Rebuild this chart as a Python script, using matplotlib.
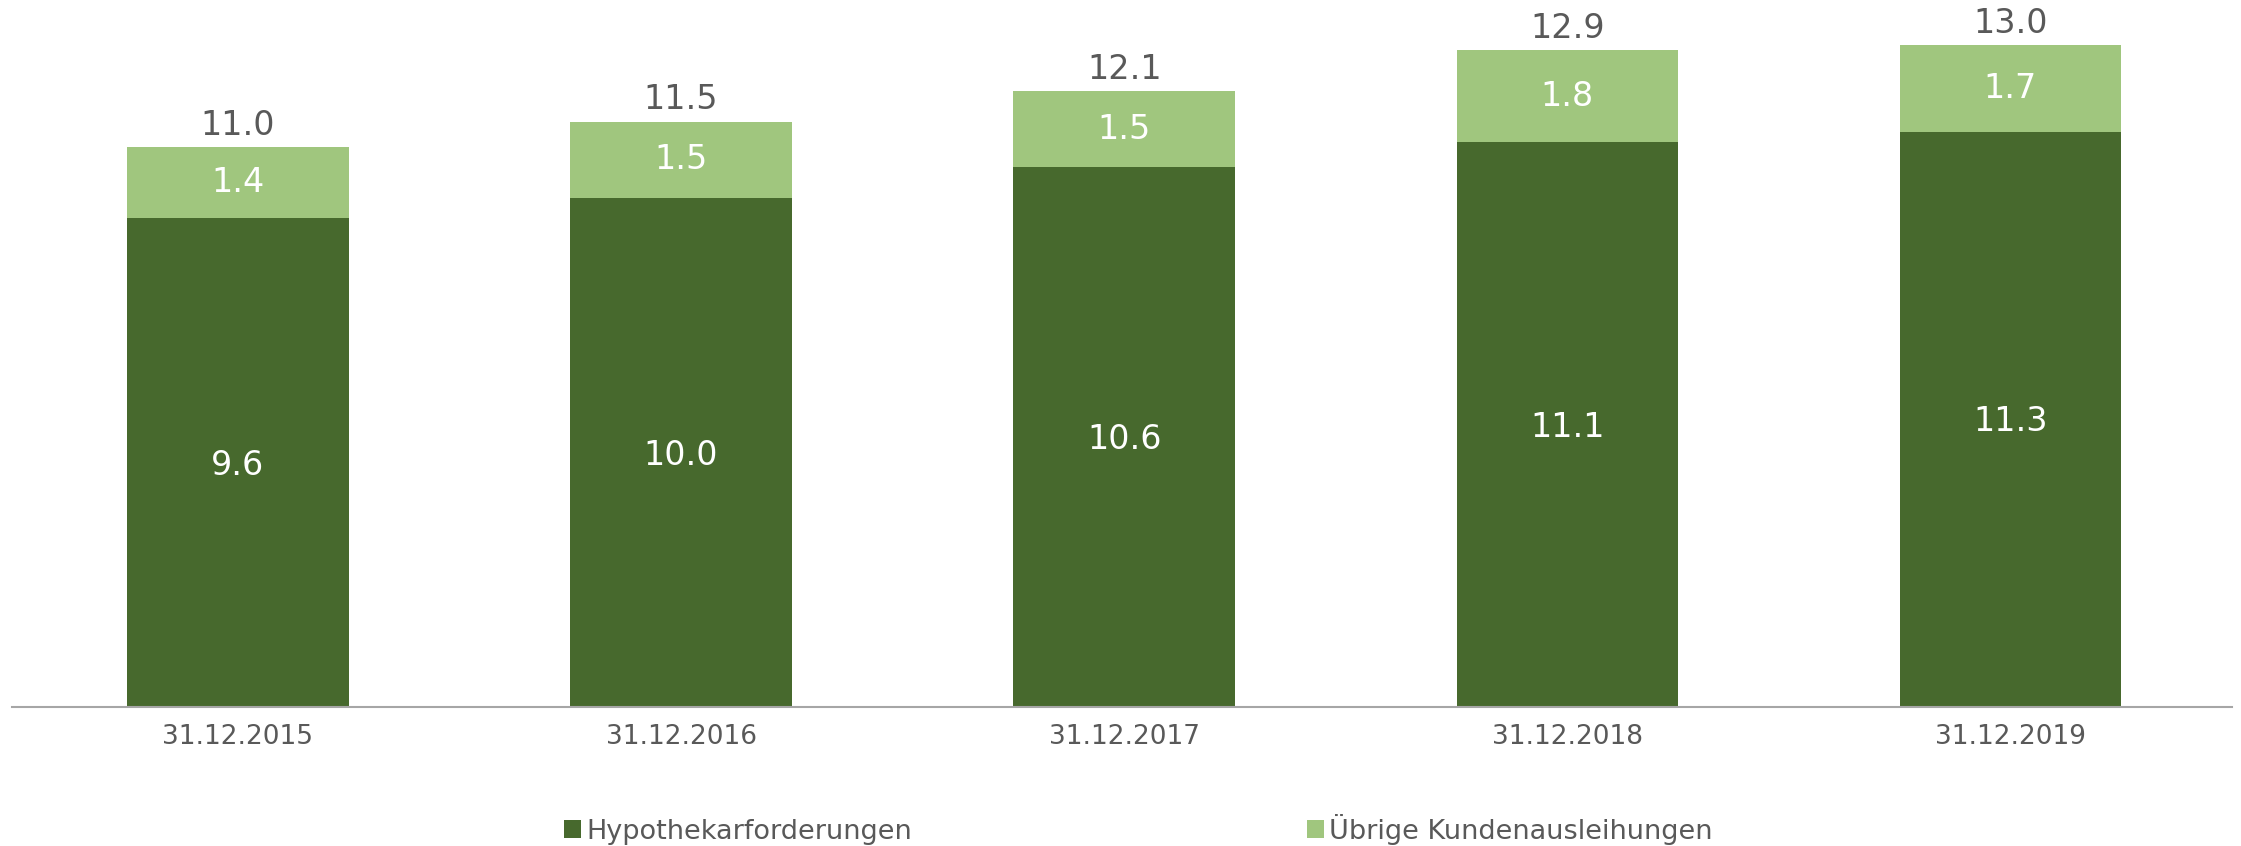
import numpy as np
import matplotlib.pyplot as plt

dates = ["31.12.2015", "31.12.2016", "31.12.2017", "31.12.2018", "31.12.2019"]
hypo = [9.6, 10.0, 10.6, 11.1, 11.3]
other = [1.4, 1.5, 1.5, 1.8, 1.7]
totals = [11.0, 11.5, 12.1, 12.9, 13.0]

dark = "#47692D"
light = "#A0C67E"
grey = "#595959"

plt.rcParams['font.family'] = ['DejaVu Sans']

fig = plt.figure(figsize=(22.41, 8.46), dpi=100)
ax = fig.add_axes([12 / 2241, 1 - 707 / 846, 2220 / 2241, 707 / 846])

x = np.arange(len(dates))
w = 0.5
b1 = ax.bar(x, hypo, w, color=dark, label="Hypothekarforderungen")
b2 = ax.bar(x, other, w, bottom=hypo, color=light, label="Übrige Kundenausleihungen")

for i in range(len(dates)):
    ax.text(x[i], hypo[i] / 2 - 0.05, f"{hypo[i]:.1f}", ha="center", va="center",
            color="white", fontsize=24)
    ax.text(x[i], hypo[i] + other[i] / 2, f"{other[i]:.1f}", ha="center", va="center",
            color="white", fontsize=24)
    ax.annotate(f"{totals[i]:.1f}", (x[i], totals[i]), xytext=(0, 22),
                textcoords="offset pixels", ha="center", va="center",
                color=grey, fontsize=24)

ax.set_xlim(-0.51, 4.5)
ax.set_ylim(0, 707 / 50.9)
ax.set_xticks(x)
ax.set_xticklabels(dates, fontsize=19, color=grey)
ax.tick_params(axis="x", length=0, pad=12)
ax.set_yticks([])
for s in ["top", "right", "left"]:
    ax.spines[s].set_visible(False)
ax.spines["bottom"].set_color("#A6A6A6")
ax.spines["bottom"].set_linewidth(1.5)

leg = fig.legend(handles=[b1, b2], loc="center", bbox_to_anchor=(0.508, 1 - 829 / 846),
                 ncol=2, frameon=False, fontsize=19.5, handlelength=0.6, handleheight=0.6,
                 handletextpad=0.2, columnspacing=14.6)
for t in leg.get_texts():
    t.set_color(grey)

fig.savefig("out.png", dpi=100)
